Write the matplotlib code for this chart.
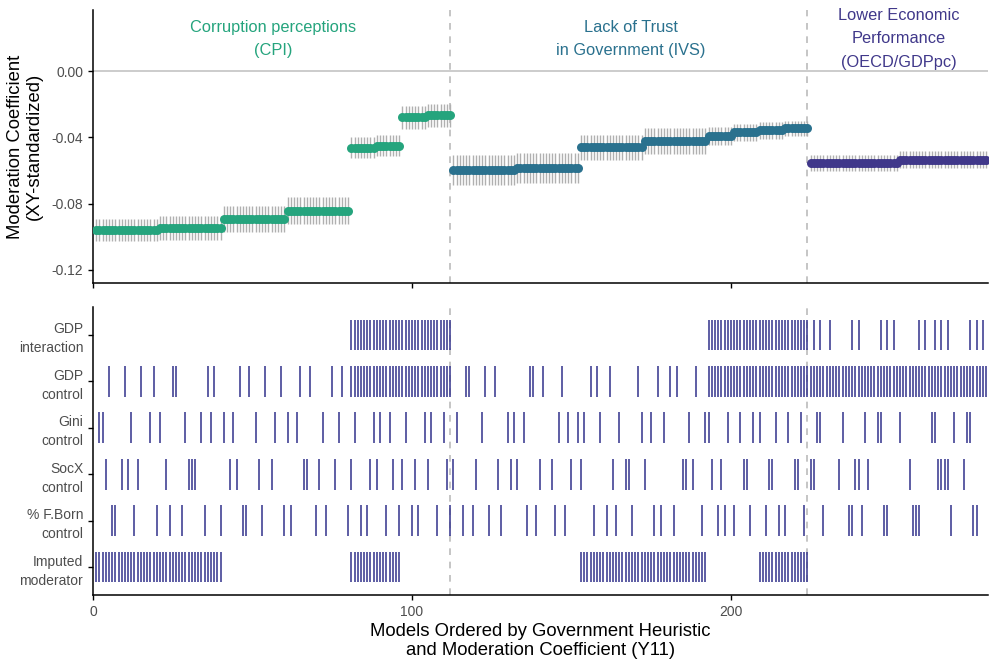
import matplotlib
matplotlib.use("Agg")
import matplotlib.pyplot as plt
import numpy as np

plt.rcParams['font.family'] = ['Liberation Sans', 'DejaVu Sans']
plt.rcParams['axes.unicode_minus'] = False

# ---------------- data ----------------
n_models = 280
block_sizes = [20, 20, 20, 20, 8, 8, 8, 8,
               20, 20, 20, 20, 8, 8, 8, 8,
               28, 28]
block_est = [-0.0959, -0.0947, -0.0894, -0.0842, -0.0462, -0.0450, -0.0279, -0.0267,
             -0.0597, -0.0583, -0.0460, -0.0422, -0.0390, -0.0370, -0.0357, -0.0346,
             -0.0556, -0.0534]
block_ci = [0.0067, 0.0072, 0.0078, 0.0080, 0.0063, 0.0063, 0.0070, 0.0070,
            0.0088, 0.0090, 0.0077, 0.0077, 0.0055, 0.0050, 0.0050, 0.0046,
            0.0050, 0.0050]
block_group = [0] * 8 + [1] * 8 + [2] * 2

group_names = ["Corruption perceptions\n(CPI)",
               "Lack of Trust\nin Government (IVS)",
               "Lower Economic\nPerformance\n(OECD/GDPpc)"]
group_colors = ["#25A47D", "#2A718E", "#40388A"]
group_bounds = [112, 224]

row_labels = ["GDP\ninteraction", "GDP\ncontrol", "Gini\ncontrol",
              "SocX\ncontrol", "% F.Born\ncontrol", "Imputed\nmoderator"]

gdp_interaction = (list(range(81, 113)) + list(range(193, 225)) +
                   [226, 228, 231, 238, 240, 247, 249, 251,
                    259, 261, 264, 266, 268, 275, 277, 279])
gdp_control = ([5, 10, 15, 19, 25, 26, 36, 38, 46, 49, 54, 59, 65, 68, 75, 78] +
               list(range(81, 113)) +
               [117, 118, 123, 126, 137, 138, 141, 147, 156, 158, 162, 171,
                177, 181, 183, 189] +
               list(range(193, 281)))
gini_control = [2, 3, 12, 18, 21, 29, 34, 37, 41, 44, 51, 57, 61, 64, 72, 77,
                82, 88, 90, 93, 98, 104, 106, 110,
                114, 122, 130, 132, 135, 146, 149, 152, 154, 159, 165, 172,
                175, 179, 187, 192, 193, 199, 203, 207, 209, 214, 218, 222,
                227, 228, 235, 242, 246, 247, 253, 263, 264, 270, 274, 275]
socx_control = [4, 9, 11, 14, 23, 30, 31, 32, 43, 45, 52, 56, 66, 67, 71, 76,
                81, 87, 89, 94, 97, 101, 105, 111,
                113, 120, 127, 131, 133, 140, 144, 150, 153, 163, 167, 168,
                173, 185, 186, 188, 194, 197, 204, 205, 212, 213, 220, 221,
                225, 226, 234, 239, 240, 243, 256, 265, 266, 267, 268, 273]
fborn_control = [6, 7, 13, 20, 24, 28, 35, 40, 47, 48, 53, 60, 62, 70, 73, 80,
                 84, 86, 92, 96, 100, 102, 108, 112,
                 116, 119, 124, 128, 136, 139, 145, 148, 157, 161, 164, 169,
                 176, 178, 182, 191, 196, 198, 201, 206, 211, 215, 217, 223,
                 229, 237, 238, 241, 248, 249, 257, 258, 259, 269, 276, 277]
imputed = (list(range(1, 41)) + list(range(81, 97)) +
           list(range(153, 193)) + list(range(209, 225)))
row_members = [gdp_interaction, gdp_control, gini_control,
               socx_control, fborn_control, imputed]

# ---------------- derived ----------------
x = np.arange(1, n_models + 1)
est = np.repeat(block_est, block_sizes)
ci = np.repeat(block_ci, block_sizes)
grp = np.repeat(block_group, block_sizes)

# ---------------- figure ----------------
fig = plt.figure(figsize=(10, 6.67), dpi=100)
ax1 = fig.add_axes([0.093, 0.5757, 0.895, 0.4093])
ax2 = fig.add_axes([0.093, 0.108, 0.895, 0.4317])

tick_color = "#4D4D4D"
xlim = (0, 280.6)

# top panel
ax1.axhline(0, color="#BEBEBE", lw=1.1, zorder=1)
for b in group_bounds:
    ax1.axvline(b, color="#BBBBBB", lw=1.2, ls=(0, (4, 4)), zorder=1)
ax1.vlines(x, est - ci, est + ci, color="#B0B0B0", lw=1.0, zorder=2)
for g in range(3):
    m = grp == g
    ax1.scatter(x[m], est[m], s=42, color=group_colors[g], zorder=3,
                linewidths=0)
centers = [56.5, 168.5, 252.5]
for g in range(3):
    ax1.text(centers[g], 0.0195, group_names[g], color=group_colors[g],
             ha="center", va="center", fontsize=11.8, linespacing=1.7)
ax1.set_xlim(*xlim)
ax1.set_ylim(-0.128, 0.037)
ax1.set_yticks([-0.12, -0.08, -0.04, 0.00])
ax1.set_yticklabels(["-0.12", "-0.08", "-0.04", "0.00"])
ax1.set_xticks([0, 100, 200])
ax1.set_xticklabels([])
ax1.set_ylabel("Moderation Coefficient\n(XY-standardized)", fontsize=13.3,
               labelpad=6)

# bottom panel
for b in group_bounds:
    ax2.axvline(b, color="#BBBBBB", lw=1.2, ls=(0, (4, 4)), zorder=1)
for i, members in enumerate(row_members):
    yv = 5 - i
    mx = np.array(members)
    ax2.vlines(mx, yv - 0.33, yv + 0.33, color="#3A3A90", lw=1.15, zorder=2)
ax2.set_xlim(*xlim)
ax2.set_ylim(-0.6, 5.6)
ax2.set_yticks([5 - i for i in range(6)])
ax2.set_yticklabels(row_labels, linespacing=1.45)
ax2.set_xticks([0, 100, 200])
ax2.set_xlabel("Models Ordered by Government Heuristic\nand Moderation Coefficient (Y11)",
               fontsize=13.3, labelpad=3)

for ax in (ax1, ax2):
    ax.spines["top"].set_visible(False)
    ax.spines["right"].set_visible(False)
    ax.spines["left"].set_linewidth(1.1)
    ax.spines["bottom"].set_linewidth(1.1)
    ax.tick_params(axis="both", colors="black", labelcolor=tick_color,
                   labelsize=10, length=3.5, width=1)

fig.savefig("out.png", dpi=100)
